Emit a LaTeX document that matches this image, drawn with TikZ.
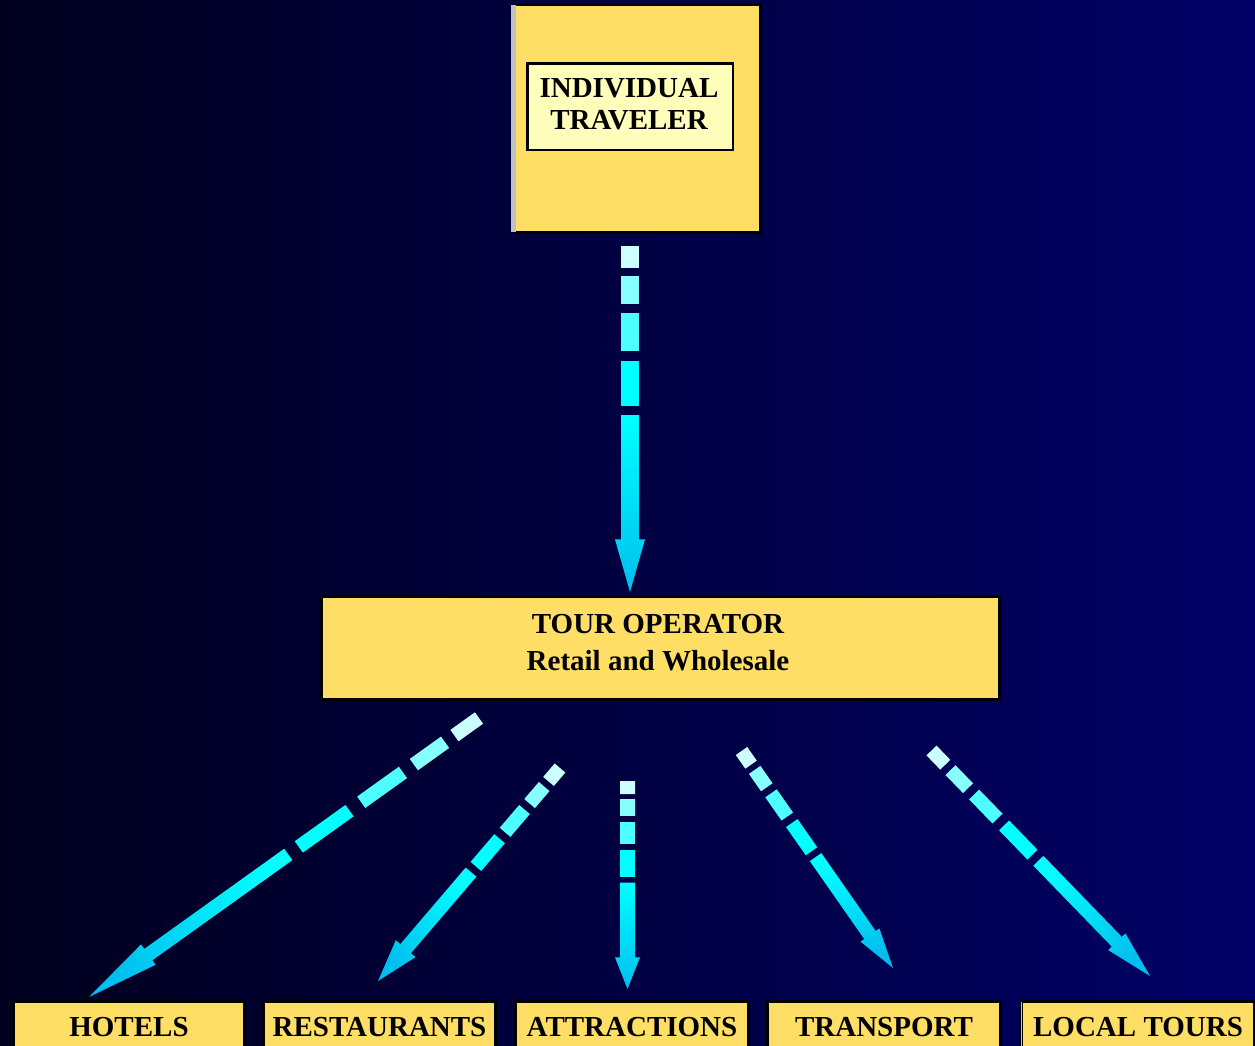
\documentclass[tikz,border=0pt]{standalone}
\usepackage{fontspec}
\setmainfont{Liberation Serif}
\usetikzlibrary{calc}
\definecolor{bgL}{RGB}{0,0,30}
\definecolor{bgR}{RGB}{0,0,102}
\definecolor{boxY}{RGB}{255,222,102}
\definecolor{boxInner}{RGB}{255,255,187}
\definecolor{stripe}{RGB}{192,192,200}
\definecolor{dashA}{RGB}{204,255,255}
\definecolor{dashB}{RGB}{136,255,255}
\definecolor{dashC}{RGB}{77,255,255}
\definecolor{dashD}{RGB}{0,255,255}
\definecolor{shaftA}{RGB}{0,255,255}
\definecolor{headB}{RGB}{0,190,238}
% #1 start, #2 tip, #3 half shaft width, #4 half head width, #5 shading angle
\newcommand\fatarrow[5]{%
  \foreach \fa/\fb/\col in {0/0.063/dashA, 0.087/0.167/dashB, 0.195/0.302/dashC, 0.332/0.462/dashD}{%
    \fill[\col] ($(#1)!\fa!(#2)!#3!90:(#2)$) -- ($(#1)!\fb!(#2)!#3!90:(#2)$)
      -- ($(#1)!\fb!(#2)!#3!-90:(#2)$) -- ($(#1)!\fa!(#2)!#3!-90:(#2)$) -- cycle;
  }
  \shade[top color=shaftA, bottom color=headB, shading angle=#5]
    ($(#1)!0.489!(#2)!#3!90:(#2)$) -- ($(#1)!0.848!(#2)!#3!90:(#2)$)
    -- ($(#1)!0.848!(#2)!#4!90:(#2)$) -- (#2)
    -- ($(#1)!0.848!(#2)!#4!-90:(#2)$) -- ($(#1)!0.848!(#2)!#3!-90:(#2)$)
    -- ($(#1)!0.489!(#2)!#3!-90:(#2)$) -- cycle;
}
\begin{document}
\begin{tikzpicture}[x=1pt,y=-1pt,
  ybox/.style={draw=black, line width=2.6pt, fill=boxY, inner sep=0pt},
  ibox/.style={draw=black, line width=2.5pt, fill=boxInner, inner sep=0pt},
  bbox/.style={draw=black, line width=3pt, fill=boxY, inner xsep=0pt, inner ysep=13.5pt,
    anchor=north, text height=21pt, text depth=40pt, minimum width=232pt,
    font=\fontsize{29}{33}\selectfont\bfseries},
  lbl/.style={inner sep=0pt, align=center, text=black}]
\useasboundingbox (0,0) rectangle (1255,1045);
\shade[left color=bgL, right color=bgR] (0,0) rectangle (1255,1045);

% top box
\node[ybox, minimum width=246.4pt, minimum height=228.4pt] (travout) at (637.5,118.5) {};
\fill[stripe] ($(travout.north west)+(-1.6,1.6)$) rectangle ($(travout.south west)+(2.6,-1.6)$);
\node[ibox, minimum width=205.5pt, minimum height=86.5pt] (trav) at (630,106.5) {};
\node[lbl, font=\fontsize{29}{32}\selectfont\bfseries] (travlbl) at (629,104.4) {INDIVIDUAL\\TRAVELER};

% tour operator
\node[draw=black, line width=3pt, fill=boxY, minimum width=678pt, minimum height=103pt, inner sep=0pt] (tour) at (660.5,648) {};
\node[lbl, font=\fontsize{29}{37.5}\selectfont\bfseries] (tourlbl) at (658,642.4) {TOUR OPERATOR\\Retail and Wholesale};

% bottom boxes
\node[bbox, minimum width=231pt] (hot) at (129,1000) {HOTELS};
\node[bbox] (res) at (379.5,1000) {RESTAURANTS};
\node[bbox, minimum width=233pt] (att) at (632,1000) {ATTRACTIONS};
\node[bbox, minimum width=233pt] (tra) at (884,1000) {TRANSPORT};
\node[bbox, minimum width=233pt] (loc) at (1138,1000) {LOCAL TOURS};
\draw[stripe, line width=0.8pt] ($(loc.north west)+(1.5,1.5)$) -- ($(loc.south west)+(1.5,0)$);

% arrow end points
\coordinate (a1s) at (630,246);   \coordinate (a1t) at (630,592);
\coordinate (a2s) at (479,718);   \coordinate (a2t) at (89,997);
\coordinate (a3s) at (560,768);   \coordinate (a3t) at (378,981);
\coordinate (a4s) at (627.5,781); \coordinate (a4t) at (627.5,989);
\coordinate (a5s) at (741.5,751); \coordinate (a5t) at (893,968);
\coordinate (a6s) at (931.5,750.5); \coordinate (a6t) at (1150,976);

\fatarrow{a1s}{a1t}{9pt}{15pt}{0}
\fatarrow{a2s}{a2t}{7pt}{12.5pt}{-54.4}
\fatarrow{a3s}{a3t}{7pt}{13pt}{-40.5}
\fatarrow{a4s}{a4t}{7.5pt}{12.5pt}{0}
\fatarrow{a5s}{a5t}{7pt}{11.5pt}{34.9}
\fatarrow{a6s}{a6t}{7pt}{12pt}{44.1}
\end{tikzpicture}
\end{document}
